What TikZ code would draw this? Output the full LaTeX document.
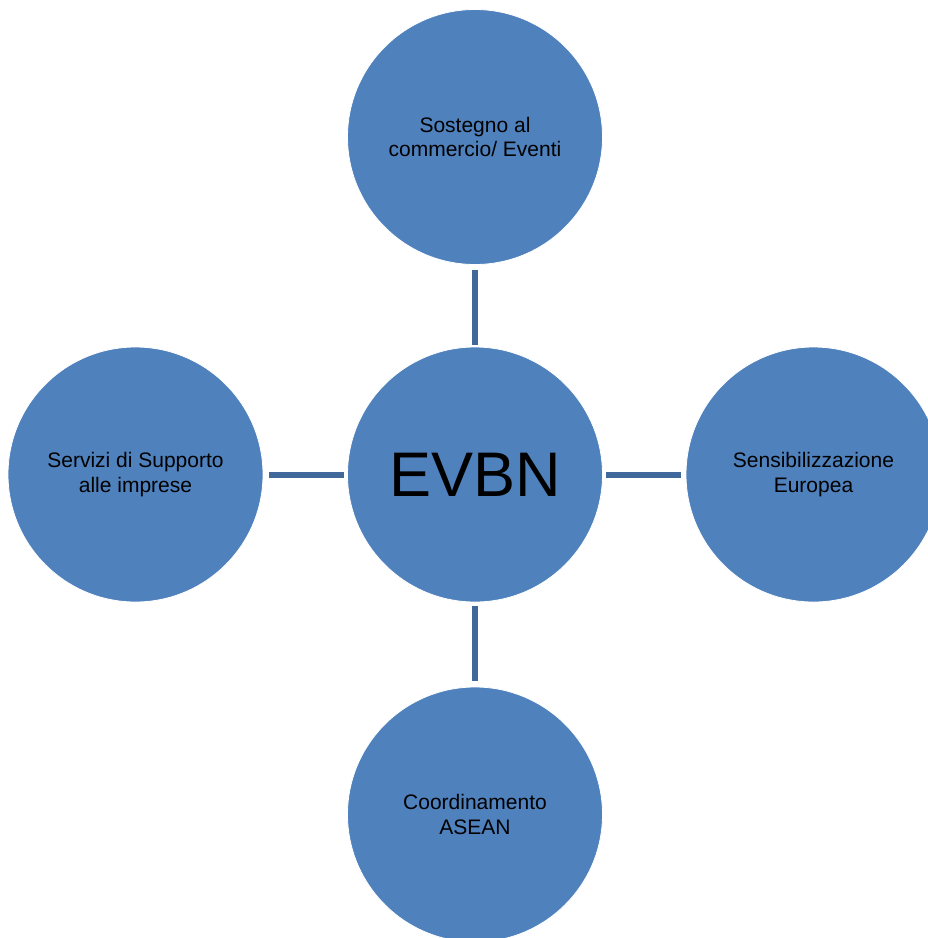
\documentclass[tikz,border=0pt]{standalone}
\usepackage{fontspec}
\setmainfont{Liberation Sans}
\definecolor{circfill}{RGB}{79,129,189}
\definecolor{linkcol}{RGB}{64,104,154}
\tikzset{
  bubble/.style={circle, fill=circfill, draw=white, line width=0.8pt, minimum size=255pt, inner sep=0pt, align=center, font=\fontsize{21}{24.5}\selectfont, text=black},
  hub/.style={bubble, font=\fontsize{63}{68}\selectfont},
  link/.style={draw=linkcol, line width=6pt}
}
\begin{document}
\begin{tikzpicture}[x=1pt,y=-1pt]
\useasboundingbox[fill=white] (0,0) rectangle (928,938);
\node[hub] (c) at (475,474.5) {EVBN};
\node[bubble] (t) at (475,137) {Sostegno al\\commercio/ Eventi};
\node[bubble] (l) at (135.5,474.5) {Servizi di Supporto\\alle imprese};
\node[bubble] (r) at (813.5,474.5) {Sensibilizzazione\\Europea};
\node[bubble] (b) at (475,814.5) {Coordinamento\\ASEAN};
\draw[link] ([yshift=-5pt]t.south) -- ([yshift=2pt]c.north);
\draw[link] ([yshift=-4pt]c.south) -- ([yshift=6pt]b.north);
\draw[link] ([xshift=6pt]l.east) -- ([xshift=-3pt]c.west);
\draw[link] ([xshift=3pt]c.east) -- ([xshift=-5pt]r.west);
\end{tikzpicture}
\end{document}
